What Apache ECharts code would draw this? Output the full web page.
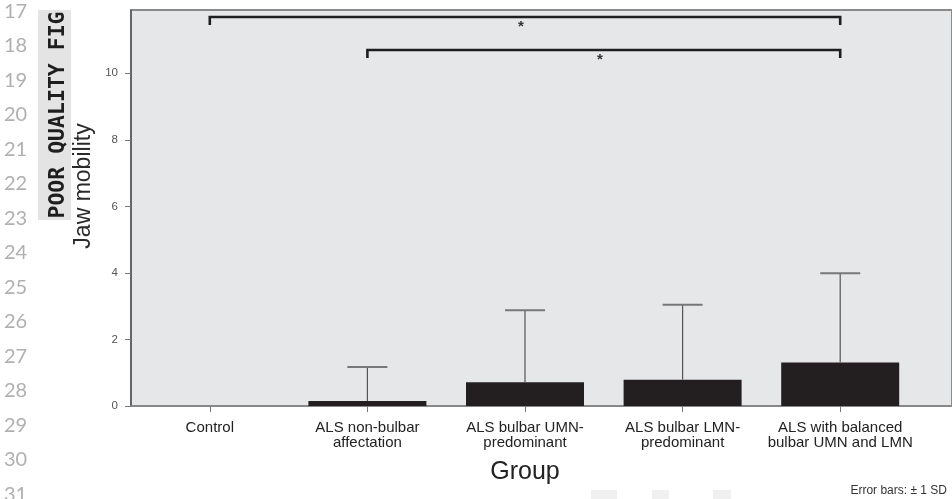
<!DOCTYPE html>
<html>
<head>
<meta charset="utf-8">
<script src="https://cdn.jsdelivr.net/npm/echarts@6/dist/echarts.min.js"></script>
<style>
html,body{margin:0;padding:0;background:#fff;}
#chart{width:952px;height:499px;}
</style>
</head>
<body>
<div id="chart"></div>
<script>
// ---- data ----
const categories = [
  'Control',
  'ALS non-bulbar\naffectation',
  'ALS bulbar UMN-\npredominant',
  'ALS bulbar LMN-\npredominant',
  'ALS with balanced\nbulbar UMN and LMN'
];
const means = [0, 0.15, 0.71, 0.79, 1.31];
const sds = [0, 1.02, 2.17, 2.25, 2.68];
const yTicks = [0, 2, 4, 6, 8, 10];
// significance brackets: [fromCategoryIndex, toCategoryIndex, yLevel]
const brackets = [[0, 4, 11.69], [1, 4, 10.70]];
const bracketLabels = ['*', '*'];
const lineNumbers = ['17','18','19','20','21','22','23','24','25','26','27','28','29','30','31'];
const yAxisTitle = 'Jaw mobility';
const xAxisTitle = 'Group';
const watermark = 'POOR QUALITY FIG';
const footnote = 'Error bars: \u00B1 1 SD';

const chart = echarts.init(document.getElementById('chart'), null, {renderer: 'canvas'});

const errData = means.map((m, i) => [i, m, m + sds[i]]);

const graphics = [];
lineNumbers.forEach((n, i) => {
  graphics.push({
    type: 'text', x: 4, y: 11.5 + 34.5 * i, silent: true,
    style: {text: n, font: '20px Lato', fill: '#b0b0b0', align: 'left', verticalAlign: 'middle'}
  });
});
graphics.push({type: 'rect', shape: {x: 38, y: 10, width: 33, height: 210}, style: {fill: '#e4e4e4'}, silent: true});
graphics.push({
  type: 'text', x: 58, y: 115, rotation: Math.PI / 2, silent: true,
  style: {text: watermark, font: 'bold 21.5px "DejaVu Sans Mono"', fill: '#1e1e1e', align: 'center', verticalAlign: 'middle'}
});
graphics.push({
  type: 'text', x: 84, y: 186, rotation: Math.PI / 2, silent: true,
  style: {text: yAxisTitle, font: '23px "Liberation Sans"', fill: '#2a2a2a', align: 'center', verticalAlign: 'middle'}
});
graphics.push({
  type: 'text', x: 947, y: 491, silent: true,
  style: {text: footnote, font: '12px "Liberation Sans"', fill: '#333', align: 'right', verticalAlign: 'middle'}
});
[[591, 26], [652, 17], [713, 18]].forEach(r => {
  graphics.push({type: 'rect', shape: {x: r[0], y: 490, width: r[1], height: 12}, style: {fill: '#f0f0f0'}, silent: true});
});

const option = {
  animation: false,
  backgroundColor: '#ffffff',
  graphic: graphics,
  grid: [
    {left: 131, right: 33, top: 10, bottom: 93, show: false},
    {left: 131, right: -3, top: 10, bottom: 93, show: true, backgroundColor: '#e6e7e9', borderColor: '#8a8a8a', borderWidth: 2, z: -1}
  ],
  xAxis: [
    {
      type: 'category', gridIndex: 0, data: categories,
      axisLine: {show: false},
      axisTick: {show: true, alignWithLabel: true, length: 6, lineStyle: {color: '#777', width: 1}},
      axisLabel: {margin: 14, interval: 0, fontFamily: 'Liberation Sans', fontSize: 15, lineHeight: 15, color: '#222'},
      name: xAxisTitle, nameLocation: 'middle', nameGap: 54,
      nameTextStyle: {fontFamily: 'Liberation Sans', fontSize: 25, color: '#222'}
    },
    {
      type: 'value', gridIndex: 1, min: 0, max: 1,
      axisLine: {show: true, lineStyle: {color: '#888', width: 1.5}},
      axisTick: {show: false}, axisLabel: {show: false}, splitLine: {show: false}
    }
  ],
  yAxis: [
    {
      type: 'value', gridIndex: 0, min: 0, max: 11.9, interval: 2,
      axisLine: {show: true, lineStyle: {color: '#5a5a5a', width: 1.5}},
      axisTick: {show: true, length: 6, lineStyle: {color: '#777'}, customValues: yTicks},
      axisLabel: {margin: 13, fontFamily: 'Liberation Sans', fontSize: 11.5, color: '#555', customValues: yTicks},
      splitLine: {show: false}
    },
    {
      type: 'value', gridIndex: 1, min: 0, max: 1, show: false
    }
  ],
  series: [
    {
      type: 'bar', xAxisIndex: 0, yAxisIndex: 0, data: means, barWidth: 118,
      itemStyle: {color: '#231f20'}, z: 2
    },
    {
      type: 'custom', xAxisIndex: 0, yAxisIndex: 0, data: errData, z: 3,
      encode: {x: 0, y: [1, 2]},
      renderItem: function (params, api) {
        const idx = api.value(0);
        const base = api.coord([idx, api.value(1)]);
        const top = api.coord([idx, api.value(2)]);
        if (api.value(2) - api.value(1) <= 0) return null;
        return {
          type: 'group',
          children: [
            {type: 'line', shape: {x1: base[0], y1: base[1], x2: top[0], y2: top[1]}, style: {stroke: '#555', lineWidth: 1.2}},
            {type: 'line', shape: {x1: top[0] - 20, y1: top[1], x2: top[0] + 20, y2: top[1]}, style: {stroke: '#777', lineWidth: 2}}
          ]
        };
      }
    },
    {
      type: 'custom', xAxisIndex: 0, yAxisIndex: 0, data: brackets, z: 4,
      encode: {x: [0, 1], y: 2},
      renderItem: function (params, api) {
        const p1 = api.coord([api.value(0), api.value(2)]);
        const p2 = api.coord([api.value(1), api.value(2)]);
        const mid = (p1[0] + p2[0]) / 2;
        return {
          type: 'group',
          children: [
            {type: 'polyline', shape: {points: [[p1[0], p1[1] + 8], [p1[0], p1[1]], [p2[0], p2[1]], [p2[0], p2[1] + 8]]},
              style: {stroke: '#1e1e1e', lineWidth: 2.6, fill: null}},
            {type: 'text', x: mid - 4, y: p1[1] + 10,
              style: {text: bracketLabels[params.dataIndex], font: 'bold 15px "Liberation Sans"', fill: '#333', align: 'center', verticalAlign: 'middle'}}
          ]
        };
      }
    }
  ]
};
chart.setOption(option);
</script>
</body>
</html>
